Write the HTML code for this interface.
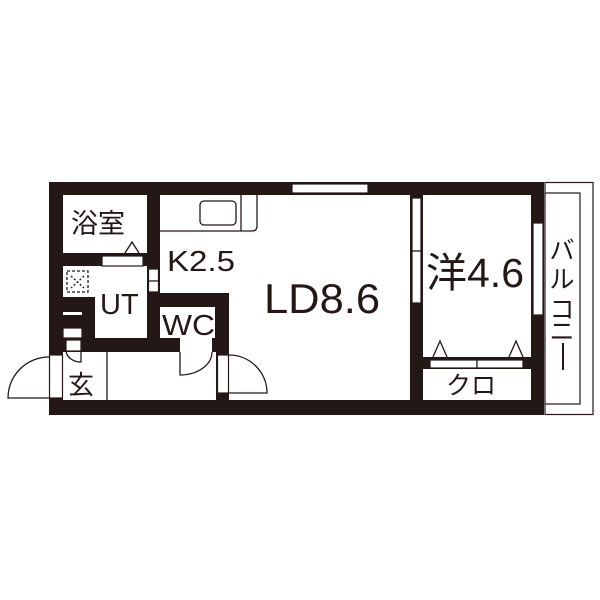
<!DOCTYPE html>
<html><head><meta charset="utf-8"><style>
html,body{margin:0;padding:0;background:#fff;width:600px;height:600px;overflow:hidden}
text{font-family:"Liberation Sans","Noto Sans CJK JP",sans-serif;fill:#231815}
</style></head><body>
<svg width="600" height="600" viewBox="0 0 600 600" xmlns="http://www.w3.org/2000/svg">
<g fill="#231815">
<rect x="49" y="182" width="495" height="13"/>
<rect x="49" y="400" width="495" height="15"/>
<rect x="49" y="182" width="14" height="233"/>
<rect x="531" y="182" width="13" height="233"/>
<rect x="147" y="195" width="13" height="157"/>
<rect x="63" y="253" width="97" height="13"/>
<rect x="63" y="297" width="32" height="55"/>
<rect x="63" y="338" width="166" height="14"/>
<rect x="147" y="293" width="82" height="59"/>
<rect x="216" y="293" width="13" height="107"/>
<rect x="410" y="182" width="13" height="233"/>
<rect x="423" y="357" width="108" height="12"/>
</g>
<g fill="#fff" stroke="#231815" stroke-width="1.2">
<rect x="49.5" y="355" width="13" height="43"/>
<rect x="217.5" y="355" width="11" height="38"/>
<rect x="292" y="184" width="76" height="9"/>
<rect x="412" y="198" width="9" height="53"/>
<rect x="412" y="251" width="9" height="52"/>
<rect x="533" y="223" width="10" height="92"/>
<rect x="430" y="360" width="47" height="8"/>
<rect x="477" y="360" width="46" height="8"/>
<rect x="102" y="256" width="41" height="10"/>
<rect x="148.5" y="269" width="10" height="12"/>
<rect x="148.5" y="281" width="10" height="11"/>
<rect x="160" y="307" width="55" height="31" stroke="none"/>
<rect x="63" y="312" width="19" height="3" stroke="none"/>
<rect x="63" y="328" width="19" height="10"/>
<rect x="66" y="340" width="15" height="11"/>
<rect x="180" y="338" width="32" height="14" stroke="none"/>
<rect x="545" y="182.5" width="48" height="232"/>
<rect x="545" y="193" width="35" height="211"/>
</g>
<g fill="none" stroke="#231815" stroke-width="1.3">
<path d="M160 231 H252 Q257 231 257 226 V195"/>
<line x1="241" y1="195" x2="241" y2="231"/>
<rect x="200" y="201" width="36" height="24" rx="4"/>
<path d="M125 253 L132 242 L139 253"/>
<rect x="67" y="271" width="21" height="21" stroke-dasharray="3 2"/>
<path d="M71 276 L84 288 M84 276 L71 288" stroke-dasharray="2 2"/>
<line x1="107" y1="352" x2="107" y2="400"/>
<path d="M49 357 A41 41 0 0 0 8 398 H49"/>
<path d="M229 355 A38 38 0 0 1 267 393 H229"/>
<path d="M212 352 A32 23 0 0 1 180 375 V352"/>
<path d="M66 351 A15 12 0 0 0 81 362 V351"/>
<path d="M433 357 L440 341 L447 357 M509 357 L516 341 L523 357"/>
</g>
<text x="71" y="233" font-size="27">浴室</text>
<text x="167" y="271" font-size="29" textLength="68" lengthAdjust="spacingAndGlyphs">K2.5</text>
<text x="100" y="314" font-size="29">UT</text>
<text x="162" y="335" font-size="29" textLength="53" lengthAdjust="spacingAndGlyphs">WC</text>
<text x="68" y="394" font-size="26">玄</text>
<text x="264" y="313" font-size="42" textLength="116" lengthAdjust="spacingAndGlyphs">LD8.6</text>
<text x="426" y="287" font-size="41">洋4.6</text>
<text x="446" y="394" font-size="25">クロ</text>
<g font-size="25" text-anchor="middle">
<text x="562" y="259">バ</text>
<text x="562" y="288">ル</text>
<text x="562" y="318">コ</text>
<text x="562" y="340">ニ</text>
</g>
<line x1="563" y1="343" x2="563" y2="370" stroke="#231815" stroke-width="2"/>
</svg>
</body></html>
